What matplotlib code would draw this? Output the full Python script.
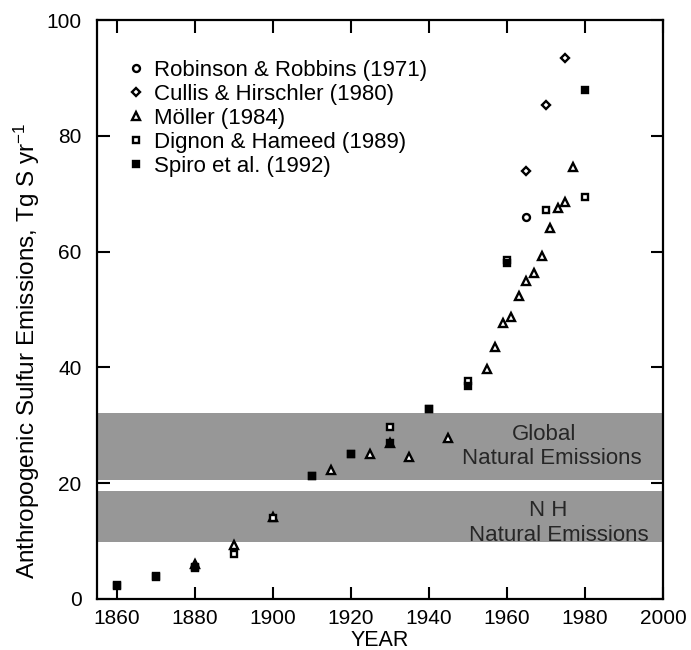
import matplotlib
matplotlib.use("Agg")
import matplotlib.pyplot as plt

plt.rcParams['font.family'] = ['Liberation Sans', 'DejaVu Sans']
plt.rcParams['mathtext.fontset'] = 'custom'
plt.rcParams['mathtext.rm'] = 'Liberation Sans'
plt.rcParams['mathtext.default'] = 'regular'

# Robinson & Robbins (1971)
rr_year = [1965]
rr_val = [66.0]

# Cullis & Hirschler (1980)
ch_year = [1965, 1970, 1975]
ch_val = [74.0, 85.4, 93.5]

# Moller (1984)
mo_year = [1880, 1890, 1900, 1915, 1925, 1930, 1935, 1945,
           1955, 1957, 1959, 1961, 1963, 1965, 1967, 1969, 1971, 1973, 1975, 1977]
mo_val = [6.0, 9.4, 14.2, 22.2, 25.0, 27.0, 24.5, 27.8,
          39.7, 43.6, 47.6, 48.8, 52.3, 55.0, 56.3, 59.2, 64.1, 67.6, 68.5, 74.6]

# Dignon & Hameed (1989)
dh_year = [1860, 1870, 1880, 1890, 1900, 1910, 1920, 1930, 1940, 1950, 1960, 1970, 1980]
dh_val = [2.3, 3.8, 5.3, 7.8, 14.0, 21.3, 25.0, 29.7, 32.8, 37.6, 58.5, 67.2, 69.4]

# Spiro et al. (1992)
sp_year = [1860, 1870, 1880, 1910, 1920, 1930, 1940, 1950, 1960, 1980]
sp_val = [2.4, 3.9, 5.6, 21.2, 25.0, 27.0, 32.8, 36.8, 58.0, 88.0]

# natural emission bands
global_band = (20.5, 32.2)
nh_band = (9.8, 18.7)

fig = plt.figure(figsize=(6.91, 6.5), dpi=100)
ax = fig.add_axes([0.1404, 0.0785, 0.819, 0.8905])

band_color = '#979797'
ax.axhspan(*global_band, color=band_color, lw=0, zorder=1)
ax.axhspan(*nh_band, color=band_color, lw=0, zorder=1)

txt = dict(va='center', fontsize=16, color='#262626', zorder=2)
ax.text(1969.5, 28.4, 'Global', ha='center', **txt)
ax.text(1971.5, 24.3, 'Natural Emissions', ha='center', **txt)
ax.text(1970.5, 15.2, 'N H', ha='center', **txt)
ax.text(1973.3, 10.9, 'Natural Emissions', ha='center', **txt)

kw = dict(ls='none', mec='black', mew=1.7, zorder=3)
ax.plot(rr_year, rr_val, marker='o', ms=5, mfc='white', label='Robinson & Robbins (1971)', **kw)
ax.plot(ch_year, ch_val, marker='D', ms=4.5, mfc='white', label='Cullis & Hirschler (1980)', **kw)
ax.plot(mo_year, mo_val, marker='^', ms=6, mfc='white', label='Möller (1984)', **kw)
ax.plot(dh_year, dh_val, marker='s', ms=5, mfc='white', label='Dignon & Hameed (1989)', **kw)
ax.plot(sp_year, sp_val, marker='s', ms=5, mfc='black', label='Spiro et al. (1992)', **kw)

ax.set_xlim(1855, 2000)
ax.set_ylim(0, 100)
ax.set_xticks([1860, 1880, 1900, 1920, 1940, 1960, 1980, 2000])
ax.set_yticks([0, 20, 40, 60, 80, 100])

for s in ax.spines.values():
    s.set_linewidth(1.6)
ax.tick_params(direction='in', length=9, width=1.5, top=True, right=True, labelsize=15)
ax.tick_params(axis='x', pad=7)
ax.tick_params(axis='y', pad=11)

ax.set_xlabel('YEAR', fontsize=15.5, labelpad=2)
ax.set_ylabel('Anthropogenic Sulfur Emissions, Tg S yr$^{-1}$', fontsize=17.5)
ax.yaxis.set_label_coords(-0.097, 0.428)

leg = ax.legend(loc='upper left', bbox_to_anchor=(0.03, 0.951), frameon=False,
                fontsize=16, handletextpad=0.3, labelspacing=0.14,
                handlelength=1.0, borderpad=0)

fig.savefig('out.png', dpi=100)
